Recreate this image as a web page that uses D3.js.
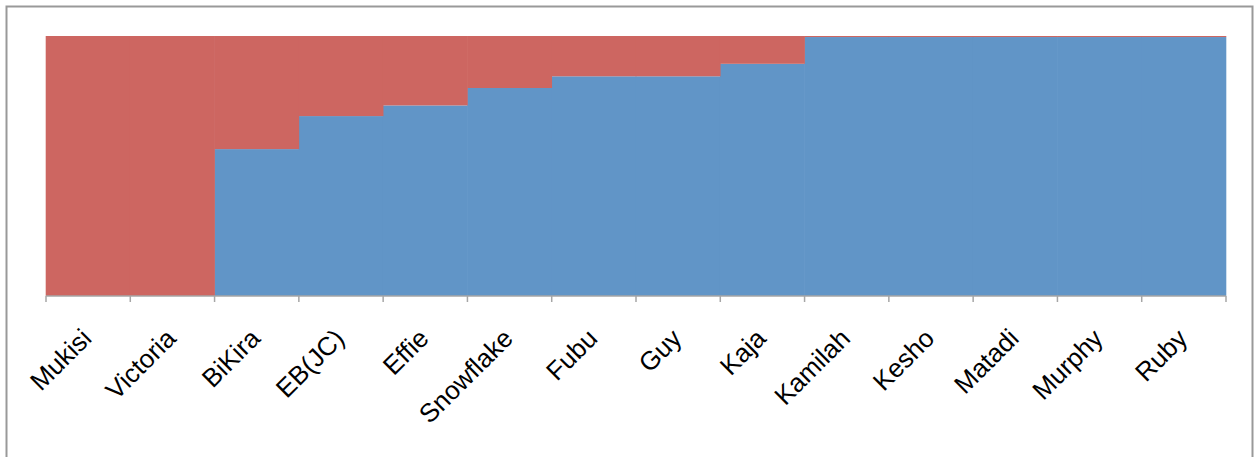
<!DOCTYPE html>
<html><head><meta charset="utf-8">
<script src="https://cdn.jsdelivr.net/npm/d3@7"></script>
<style>body{margin:0;background:#fff}svg{display:block}</style>
</head><body>
<svg id="c" width="1256" height="457"></svg>
<script>
const categories = ["Mukisi","Victoria","BiKira","EB(JC)","Effie","Snowflake","Fubu","Guy","Kaja","Kamilah","Kesho","Matadi","Murphy","Ruby"];
const blueValues = [0, 0, 56.5, 69.2, 73.3, 80.0, 84.5, 84.5, 89.3, 99.6, 99.6, 99.6, 99.6, 99.6];
const redValues  = [100, 100, 43.5, 30.8, 26.7, 20.0, 15.5, 15.5, 10.7, 0.4, 0.4, 0.4, 0.4, 0.4];

const svg = d3.select("#c");
const W = 1256, H = 457;
const m = {left: 46, right: 30, top: 36, bottom: 161};
const pw = W - m.left - m.right, ph = H - m.top - m.bottom;

svg.append("rect").attr("x",6.5).attr("y",6.5).attr("width",1246).attr("height",480)
  .attr("fill","#fff").attr("stroke","#999").attr("stroke-width",2);

const data = categories.map((c,i)=>({cat:c, blue:blueValues[i], red:redValues[i]}));
const stack = d3.stack().keys(["blue","red"])(data);
const colors = {blue:"#6195C7", red:"#CD6661"};

const x = d3.scaleBand().domain(categories).range([0,pw]).padding(0);
const y = d3.scaleLinear().domain([0,100]).range([ph,0]);

const g = svg.append("g").attr("transform",`translate(${m.left},${m.top})`);

stack.forEach(s=>{
  g.append("g").selectAll("rect").data(s).join("rect")
    .attr("x",d=>x(d.data.cat)-0.3)
    .attr("y",d=>y(d[1]))
    .attr("width",x.bandwidth()+0.6)
    .attr("height",d=>y(d[0])-y(d[1]))
    .attr("fill",colors[s.key]);
});

// axis
const ax = g.append("g").attr("transform",`translate(0,${ph})`);
ax.append("line").attr("x1",0).attr("x2",pw).attr("y1",0).attr("y2",0).attr("stroke","#A6A6A6").attr("stroke-width",1.5);
const tickPos = categories.map(c=>x(c)).concat([pw]);
ax.selectAll("line.t").data(tickPos).join("line").attr("class","t")
  .attr("x1",d=>d).attr("x2",d=>d).attr("y1",0).attr("y2",6)
  .attr("stroke","#A6A6A6").attr("stroke-width",1.5);

ax.selectAll("text").data(categories).join("text")
  .attr("transform",d=>`translate(${x(d)+x.bandwidth()/2+5},${44}) rotate(-45)`)
  .attr("text-anchor","end")
  .attr("font-family","'Liberation Sans', Arial, sans-serif")
  .attr("font-size",26)
  .attr("fill","#000")
  .text(d=>d);
</script>
</body></html>
